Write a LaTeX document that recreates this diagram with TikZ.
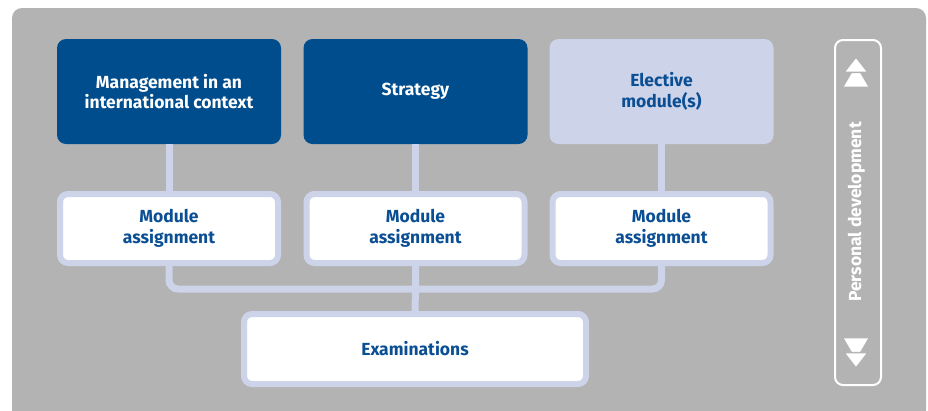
\documentclass[tikz,border=0pt]{standalone}
\usepackage{fontspec}
\setmainfont{Fira Sans}
\usetikzlibrary{positioning}
\definecolor{uniblue}{RGB}{0,77,141}
\definecolor{lav}{RGB}{205,211,232}
\definecolor{bggray}{RGB}{179,179,179}
\definecolor{txtblue}{RGB}{10,78,148}

\begin{document}
\begin{tikzpicture}[x=1pt,y=-1pt,
  topbox/.style={rounded corners=9pt,minimum width=224pt,minimum height=105pt,
    align=center,font=\bfseries\fontsize{17.5}{20.5}\selectfont},
  modbox/.style={draw=lav,line width=6pt,fill=white,rounded corners=8pt,
    minimum width=218pt,minimum height=69pt,align=center,text=txtblue,
    font=\bfseries\fontsize{17.5}{20.5}\selectfont},
  conn/.style={lav,line width=7pt},
  tri/.style={fill=white,draw=bggray,line width=1.5pt}]
\useasboundingbox (0,0) rectangle (928,410);
\fill[bggray,rounded corners=10pt] (12,8) rectangle (926,420);
%
\node (mgmt) [topbox,fill=uniblue,text=white] at (169,91.5) {Management in an\\international context};
\node (strat) [topbox,fill=uniblue,text=white] at (415.5,91.5) {Strategy};
\node (elect) [topbox,fill=lav,text=txtblue] at (661.5,91.5) {Elective\\module(s)};
%
\draw[conn] (mgmt.south) -- (169,194);
\draw[conn] (strat.south) -- (415.5,194);
\draw[conn] (elect.south) -- (661.5,194);
%
\node (mod1) [modbox] at (169,228.5) {Module\\assignment};
\node (mod2) [modbox] at (415.5,228.5) {Module\\assignment};
\node (mod3) [modbox] at (661.5,228.5) {Module\\assignment};
\node (exam) [modbox,minimum width=342pt,minimum height=70pt] at (415,349) {Examinations};
%
\coordinate (bus) at (415.5,289);
\draw[conn,rounded corners=9pt] (mod1.south) |- (bus) -| (mod3.south);
\draw[conn] (mod2.south) -- (bus) -- (exam.north);
%
\node (pd) [draw=white,line width=2pt,rounded corners=8pt,minimum width=46pt,minimum height=345pt] at (858,212.5) {};
\node (pdtext) [rotate=90,text=white,font=\bfseries\fontsize{17.5}{20}\selectfont] at (856.5,212) {Personal development};
%
\fill[white] (844,86.5) -- (856,66) -- (868,86.5) -- cycle;
\draw[tri] (844,72.3) -- (856,57) -- (868,72.3) -- cycle;
\fill[white] (844,338.3) -- (856,359) -- (868,338.3) -- cycle;
\draw[tri] (844,352.7) -- (856,368) -- (868,352.7) -- cycle;
\end{tikzpicture}
\end{document}
